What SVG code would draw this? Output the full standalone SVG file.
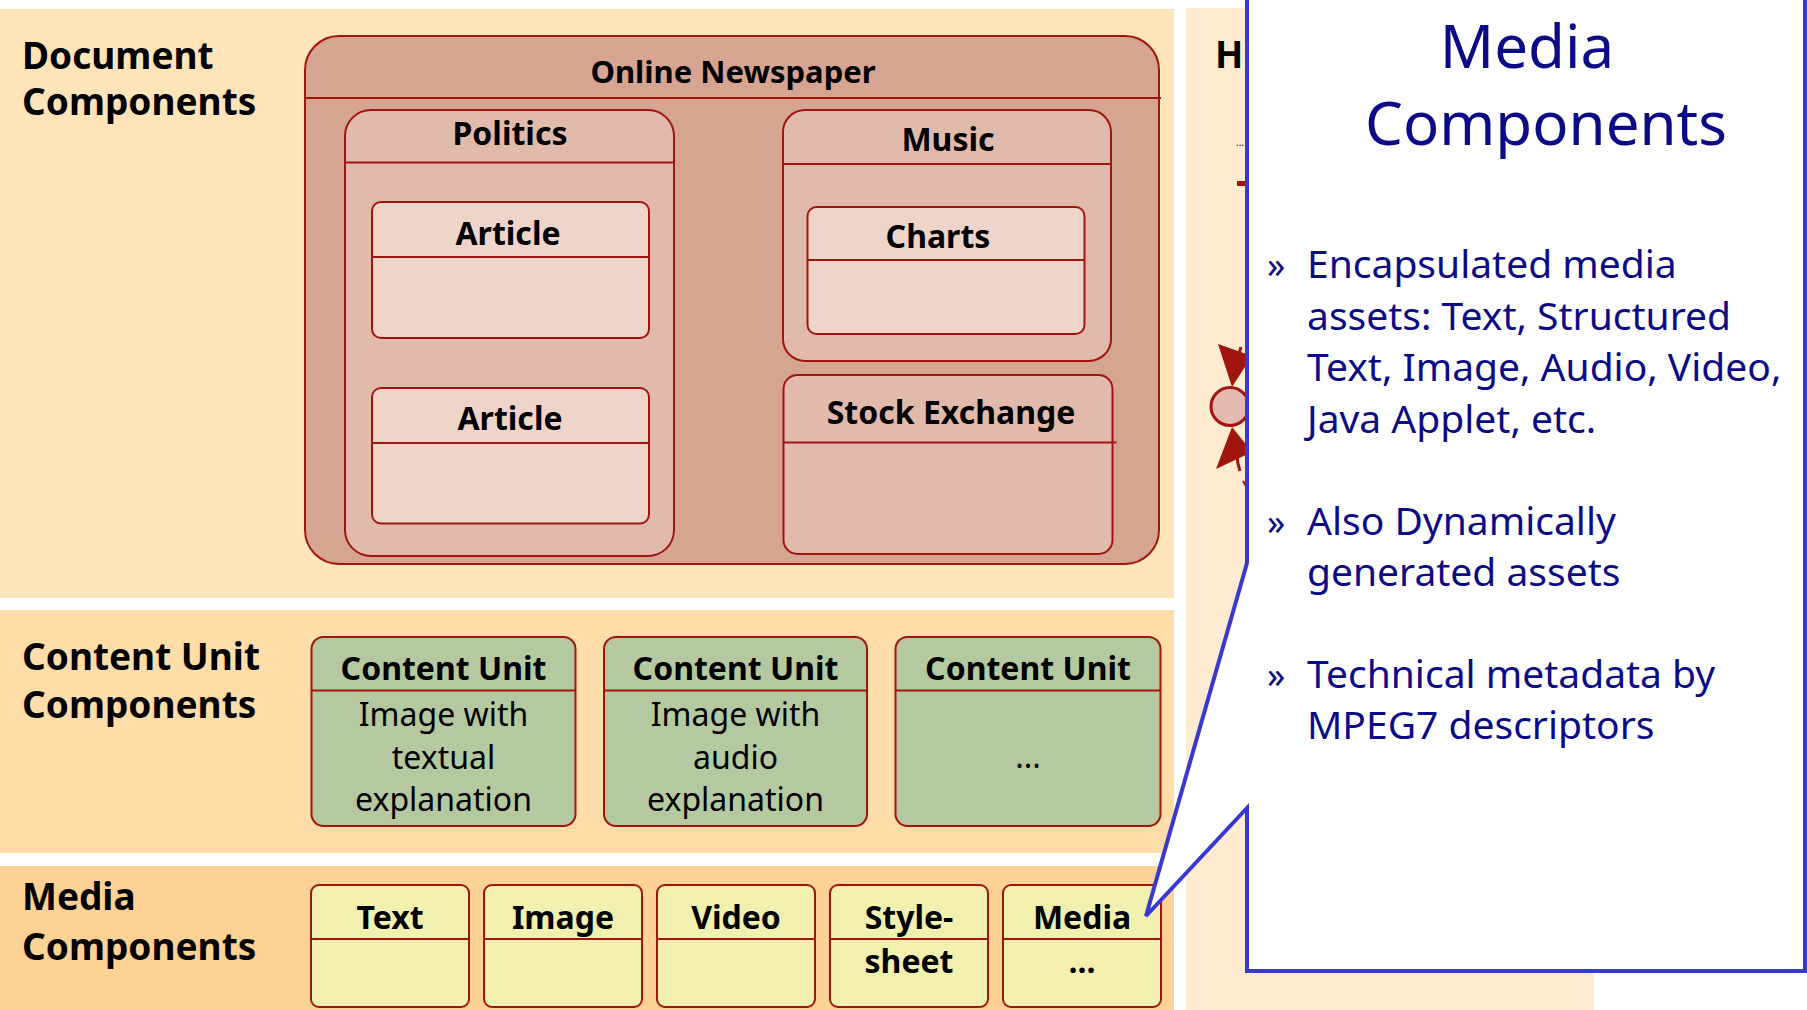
<svg xmlns="http://www.w3.org/2000/svg" width="1807" height="1010" viewBox="0 0 1807 1010">
<style>
.lbl{font-family:"Noto Sans","Open Sans","Liberation Sans",sans-serif;font-weight:bold;font-size:37px;fill:#000}
.hd{font-family:"Noto Sans","Open Sans","Liberation Sans",sans-serif;font-weight:bold;font-size:32px;fill:#000;text-anchor:middle}
.bd{font-family:"Noto Sans","Open Sans","Liberation Sans",sans-serif;font-size:32px;fill:#000;text-anchor:middle}
.box{stroke:#A0160E;stroke-width:2}
.ln{stroke:#A0160E;stroke-width:2;fill:none}
.news{fill:#D6A592}
.sec{fill:#E1BAAC}
.art{fill:#EED4C9}
.cu{fill:#B5C9A1}
.med{fill:#F1F0AE}
.ct{font-family:"Noto Sans","Open Sans","Liberation Sans",sans-serif;fill:#0B0B88}
.ctt{font-size:60px;text-anchor:middle}
.ctb{font-size:39px}
.bul{font-size:36px}
</style>
<rect width="1807" height="1010" fill="#FFFFFF"/>
<!-- bands -->
<rect x="0" y="9" width="1174" height="589" fill="#FFE4BA"/>
<rect x="0" y="610" width="1174" height="243" fill="#FEDDA8"/>
<rect x="0" y="866" width="1174" height="144" fill="#FED194"/>
<rect x="1186" y="8" width="408" height="1002" fill="#FFEBCF"/>

<text class="lbl" x="22" y="69">Document</text>
<text class="lbl" x="22" y="115">Components</text>
<text class="lbl" x="22" y="670">Content Unit</text>
<text class="lbl" x="22" y="718">Components</text>
<text class="lbl" x="22" y="910">Media</text>
<text class="lbl" x="22" y="960">Components</text>
<text class="lbl" x="1215" y="68">H</text>
<text x="1236" y="146" font-family="Noto Sans, sans-serif" font-size="10" fill="#000">...</text>
<rect x="1237" y="181" width="10" height="5" fill="#A0160E"/>

<g id="online-newspaper">
<rect class="box news" x="305" y="36" width="854" height="528" rx="34"/>
<line class="ln" x1="305" y1="98" x2="1161" y2="98"/>
<text class="hd" x="733" y="83" style="font-size:31px">Online Newspaper</text>
</g>
<g id="politics">
<rect class="box sec" x="345" y="110" width="329" height="446" rx="26"/>
<line class="ln" x1="345" y1="162.5" x2="674" y2="162.5"/>
<text class="hd" x="510" y="145">Politics</text>
</g>
<g id="article-1">
<rect class="box art" x="372" y="202" width="277" height="136" rx="9"/>
<line class="ln" x1="372" y1="257" x2="649" y2="257"/>
<text class="hd" x="508" y="245">Article</text>
</g>
<g id="article-2">
<rect class="box art" x="372" y="388" width="277" height="135.5" rx="9"/>
<line class="ln" x1="372" y1="443" x2="649" y2="443"/>
<text class="hd" x="510" y="430">Article</text>
</g>
<g id="music">
<rect class="box sec" x="783" y="110" width="328" height="251" rx="22"/>
<line class="ln" x1="783" y1="164" x2="1111" y2="164"/>
<text class="hd" x="948" y="151">Music</text>
</g>
<g id="charts">
<rect class="box art" x="807.5" y="207" width="277" height="127" rx="9"/>
<line class="ln" x1="807.5" y1="260" x2="1084.5" y2="260"/>
<text class="hd" x="938" y="248">Charts</text>
</g>
<g id="stock-exchange">
<rect class="box sec" x="783.5" y="375" width="329" height="179" rx="14"/>
<line class="ln" x1="783.5" y1="442.5" x2="1116.5" y2="442.5"/>
<text class="hd" x="951" y="424">Stock Exchange</text>
</g>

<g id="cu-1">
<rect class="box cu" x="311.5" y="637" width="264" height="189" rx="12"/>
<line class="ln" x1="311.5" y1="690.5" x2="575.5" y2="690.5"/>
<text class="hd" x="443.5" y="680">Content Unit</text>
<text class="bd" x="443.5" y="726">Image with</text>
<text class="bd" x="443.5" y="769">textual</text>
<text class="bd" x="443.5" y="811">explanation</text>
</g>
<g id="cu-2">
<rect class="box cu" x="604" y="637" width="263" height="189" rx="12"/>
<line class="ln" x1="604" y1="690.5" x2="867" y2="690.5"/>
<text class="hd" x="735.5" y="680">Content Unit</text>
<text class="bd" x="735.5" y="726">Image with</text>
<text class="bd" x="735.5" y="769">audio</text>
<text class="bd" x="735.5" y="811">explanation</text>
</g>
<g id="cu-3">
<rect class="box cu" x="895.5" y="637" width="265" height="189" rx="12"/>
<line class="ln" x1="895.5" y1="690.5" x2="1160.5" y2="690.5"/>
<text class="hd" x="1028" y="680">Content Unit</text>
<text class="bd" x="1028" y="768">...</text>
</g>

<g id="media-text">
<rect class="box med" x="311" y="885" width="158" height="122" rx="8"/>
<line class="ln" x1="311" y1="939" x2="469" y2="939"/>
<text class="hd" x="390" y="929">Text</text>
</g>
<g id="media-image">
<rect class="box med" x="484" y="885" width="158" height="122" rx="8"/>
<line class="ln" x1="484" y1="939" x2="642" y2="939"/>
<text class="hd" x="563" y="929">Image</text>
</g>
<g id="media-video">
<rect class="box med" x="657" y="885" width="158" height="122" rx="8"/>
<line class="ln" x1="657" y1="939" x2="815" y2="939"/>
<text class="hd" x="736" y="929">Video</text>
</g>
<g id="media-stylesheet">
<rect class="box med" x="830" y="885" width="158" height="122" rx="8"/>
<line class="ln" x1="830" y1="939" x2="988" y2="939"/>
<text class="hd" x="909" y="929">Style-</text>
<text class="hd" x="909" y="973">sheet</text>
</g>
<g id="media-more">
<rect class="box med" x="1003" y="885" width="158" height="122" rx="8"/>
<line class="ln" x1="1003" y1="939" x2="1161" y2="939"/>
<text class="hd" x="1082" y="929">Media</text>
<text class="hd" x="1082" y="973">...</text>
</g>

<g id="connectors">
<circle cx="1230" cy="406.5" r="19" fill="#E2BAAF" stroke="#A0160E" stroke-width="3"/>
<polygon points="1218,344 1232,387 1252,356" fill="#A0160E"/>
<path d="M1241,347 Q1238,355 1237,364" stroke="#A0160E" stroke-width="3" fill="none"/>
<polygon points="1232,427 1216,469 1252,452" fill="#A0160E"/>
<path d="M1237,454 Q1237,463 1240,471" stroke="#A0160E" stroke-width="3" fill="none"/>
<line x1="1243" y1="481" x2="1246" y2="486" stroke="#A0160E" stroke-width="2"/>
</g>

<g id="callout">
<polygon points="1247,-10 1805,-10 1805,971 1247,971 1247,808 1146,916 1247,563" fill="#FFFFFF" stroke="#3838D2" stroke-width="4" stroke-linejoin="miter"/>
<text class="ct ctt" x="1527" y="68">Media</text>
<text class="ct ctt" x="1546" y="145">Components</text>
<text class="ct bul" x="1267" y="278">»</text>
<text class="ct ctb" x="1307" y="278">Encapsulated media</text>
<text class="ct ctb" x="1307" y="330">assets: Text, Structured</text>
<text class="ct ctb" x="1307" y="381">Text, Image, Audio, Video,</text>
<text class="ct ctb" x="1307" y="433">Java Applet, etc.</text>
<text class="ct bul" x="1267" y="535">»</text>
<text class="ct ctb" x="1307" y="535">Also Dynamically</text>
<text class="ct ctb" x="1307" y="586">generated assets</text>
<text class="ct bul" x="1267" y="688">»</text>
<text class="ct ctb" x="1307" y="688">Technical metadata by</text>
<text class="ct ctb" x="1307" y="739">MPEG7 descriptors</text>
</g>
</svg>
